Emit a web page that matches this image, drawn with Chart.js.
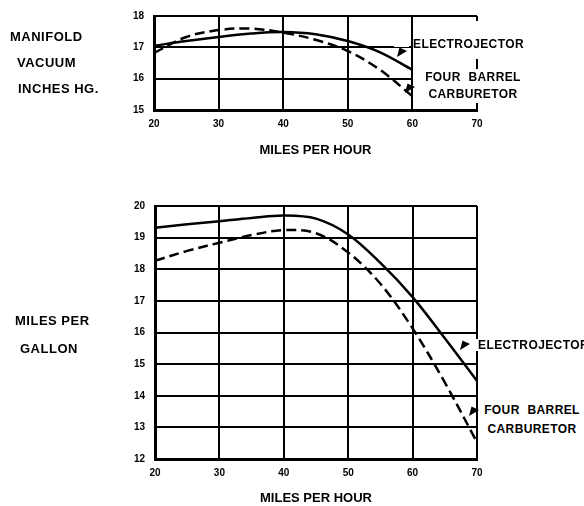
<!DOCTYPE html>
<html lang="en">
<head>
<meta charset="UTF-8">
<title>Electrojector vs Four Barrel Carburetor</title>
<script src="https://cdn.jsdelivr.net/npm/chart.js"></script>
<style>
  body { margin: 0; background: #fff; }
  #page { position: relative; width: 584px; height: 506px; overflow: hidden; background: #fff; }
  .wrap { position: absolute; left: 0; width: 584px; }
  .lbl { position: absolute; font: bold 13px "Liberation Sans", Arial, sans-serif; line-height: 13px;
         color: #000; white-space: nowrap; letter-spacing: 0.5px; z-index: 2; }
  .note { position: absolute; font: bold 12px "Liberation Sans", Arial, sans-serif; color: #000;
          white-space: nowrap; background: #fff; letter-spacing: 0.4px; word-spacing: 4px;
          text-align: center; box-sizing: border-box; z-index: 2; }
  /* small filled arrowhead pointing down-left at the curve */
  .arrow { position: absolute; width: 10px; height: 10px; background: #000; z-index: 3;
           clip-path: polygon(0% 100%, 25% 5%, 100% 40%); }
  .mask { position: absolute; background: #fff; z-index: 2; }
</style>
</head>
<body>
<div id="page">
  <div class="wrap" style="top:0;height:165px"><canvas id="vacuum-chart"></canvas></div>
  <div class="wrap" style="top:190px;height:316px"><canvas id="mpg-chart"></canvas></div>

  <div class="lbl" style="left:10px;top:30px">MANIFOLD</div>
  <div class="lbl" style="left:17px;top:56px">VACUUM</div>
  <div class="lbl" style="left:18px;top:82px">INCHES HG.</div>
  <div class="lbl" style="left:15px;top:314px">MILES PER</div>
  <div class="lbl" style="left:20px;top:342px">GALLON</div>

  <!-- top panel notes -->
  <div class="mask" style="left:394px;top:43px;width:15px;height:4px"></div>
  <div class="note" style="left:413px;top:21px;width:112px;height:38px;padding-top:17px;line-height:12px;text-align:left">ELECTROJECTOR</div>
  <div class="arrow" style="left:397px;top:47px"></div>
  <div class="note" style="left:413px;top:69px;width:120px;line-height:17px">FOUR BARREL<br>CARBURETOR</div>
  <div class="arrow" style="left:405px;top:83px"></div>

  <!-- bottom panel notes -->
  <div class="note" style="left:474px;top:339px;width:110px;line-height:12px;padding-left:4px;text-align:left">ELECTROJECTOR</div>
  <div class="arrow" style="left:460px;top:340px"></div>
  <div class="note" style="left:482px;top:401px;width:100px;line-height:19px">FOUR BARREL<br>CARBURETOR</div>
  <div class="arrow" style="left:469px;top:406px"></div>
</div>

<script>
  // manifold vacuum panel
  const speedTop = [20, 25, 30, 35, 40, 45, 50, 55, 60];
  const vacuumElectrojector = [17.05, 17.2, 17.33, 17.44, 17.49, 17.42, 17.2, 16.84, 16.28];
  const vacuumCarburetor = [16.82, 17.33, 17.55, 17.6, 17.47, 17.24, 16.88, 16.28, 15.44];
  const vacuumTicks = [15, 16, 17, 18];

  // miles per gallon panel
  const speedBottom = [20, 25, 30, 35, 40, 45, 50, 55, 60, 65, 70];
  const mpgElectrojector = [19.31, 19.42, 19.52, 19.62, 19.7, 19.6, 19.1, 18.2, 17.12, 15.82, 14.47];
  const mpgCarburetor = [18.27, 18.58, 18.84, 19.08, 19.24, 19.14, 18.53, 17.54, 16.13, 14.42, 12.53];
  const mpgTicks = [12, 13, 14, 15, 16, 17, 18, 19, 20];

  const speedTicks = [20, 30, 40, 50, 60, 70];

  const tickFont = { family: '"Liberation Sans", Arial, sans-serif', size: 10, weight: 'bold' };
  const titleFont = { family: '"Liberation Sans", Arial, sans-serif', size: 13, weight: 'bold' };

  const pairs = (xs, ys) => xs.map((x, i) => ({ x: x, y: ys[i] }));

  const makeChart = (canvasId, xs, solid, dashed, yTicks, pad, xHeight) => {
    const ctx = document.getElementById(canvasId).getContext('2d');
    return new Chart(ctx, {
      type: 'line',
      data: {
        datasets: [
          { label: 'Electrojector', data: pairs(xs, solid), borderColor: '#000', borderWidth: 2.5,
            pointRadius: 0, tension: 0.35 },
          { label: 'Four Barrel Carburetor', data: pairs(xs, dashed), borderColor: '#000', borderWidth: 2.5,
            borderDash: [10, 5], pointRadius: 0, tension: 0.35 }
        ]
      },
      options: {
        responsive: true,
        maintainAspectRatio: false,
        animation: false,
        layout: { padding: pad },
        plugins: { legend: { display: false }, tooltip: { enabled: false } },
        scales: {
          x: {
            type: 'linear', min: speedTicks[0], max: speedTicks[speedTicks.length - 1],
            afterBuildTicks: s => { s.ticks = speedTicks.map(v => ({ value: v })); },
            afterFit: s => { s.height = xHeight; },
            grid: { color: '#000', lineWidth: 2, drawTicks: false },
            border: { display: true, color: '#000', width: 3 },
            ticks: { color: '#000', font: tickFont, padding: 8, maxRotation: 0 },
            title: { display: true, text: 'MILES PER HOUR', color: '#000', font: titleFont, padding: 0 }
          },
          y: {
            type: 'linear', min: yTicks[0], max: yTicks[yTicks.length - 1],
            afterBuildTicks: s => { s.ticks = yTicks.map(v => ({ value: v })); },
            afterFit: s => { s.width = 50; },
            grid: { color: '#000', lineWidth: 2, drawTicks: false },
            border: { display: true, color: '#000', width: 3 },
            ticks: { color: '#000', font: tickFont, padding: 10 }
          }
        }
      }
    });
  };

  makeChart('vacuum-chart', speedTop, vacuumElectrojector, vacuumCarburetor, vacuumTicks,
    { left: 104, right: 107, top: 13, bottom: 7 }, 48);
  makeChart('mpg-chart', speedBottom, mpgElectrojector, mpgCarburetor, mpgTicks,
    { left: 105, right: 107, top: 13, bottom: 0 }, 47);
</script>
</body>
</html>
